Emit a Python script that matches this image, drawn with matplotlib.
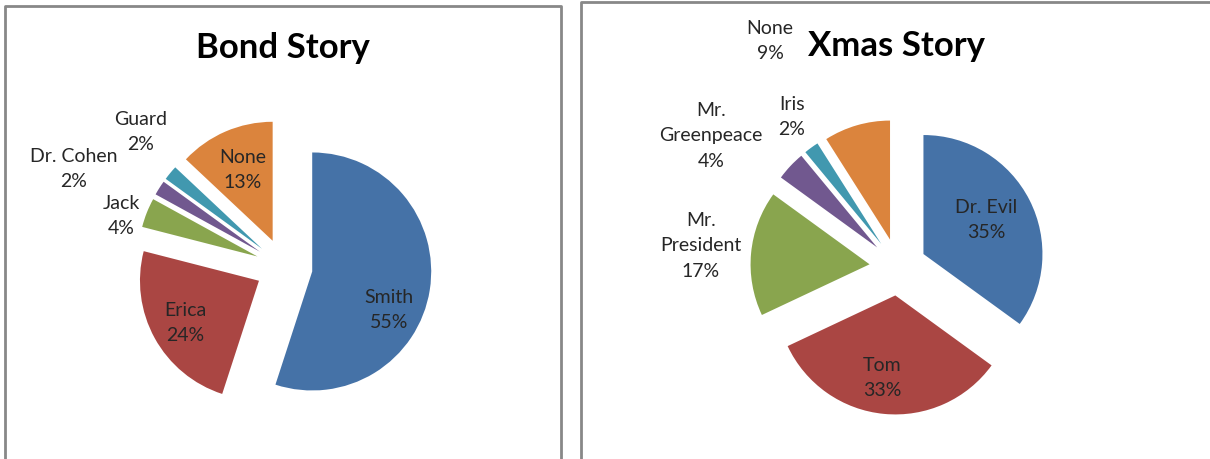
import matplotlib
matplotlib.use("Agg")
import matplotlib.pyplot as plt
from matplotlib.lines import Line2D

# ---- data ----
bond_names = ["Smith", "Erica", "Jack", "Dr. Cohen", "Guard", "None"]
bond_values = [55, 24, 4, 2, 2, 13]

xmas_names = ["Dr. Evil", "Tom", "Mr.\nPresident", "Mr.\nGreenpeace", "Iris", "None"]
xmas_values = [35, 33, 17, 4, 2, 9]

palette = ["#4572A7", "#AA4643", "#89A54E", "#71588F", "#4198AF", "#DB843D"]

# ---- layout (pixel units of a 1210x460 canvas) ----
W, H = 1210, 460
R = 119            # pie radius in px
HALF = 1.5         # half-extent of each pie axes in radius units

bond_center = (284, 268)
xmas_center = (898, 268)

# label anchor points (px) for each slice, same order as the data
bond_label_px = [(389, 310), (185, 323), (121, 216), (74, 169), (141, 132), (243, 170)]
xmas_label_px = [(986, 220), (882, 378), (701, 246), (711, 136), (792, 117), (770, 41)]

FONT = "Lato"
TEXT_COLOR = "#262626"

fig = plt.figure(figsize=(W / 100, H / 100), dpi=100)
fig.patch.set_facecolor("white")


def px_rect(cx, cy, half_px):
    return [(cx - half_px) / W, (H - cy - half_px) / H, 2 * half_px / W, 2 * half_px / H]


def draw_pie(center, names, values, label_px, title, title_px):
    cx, cy = center
    ax = fig.add_axes(px_rect(cx, cy, HALF * R))
    ax.pie(values, colors=palette, startangle=90, counterclock=False,
           explode=[0.24] * len(values), radius=1.0,
           wedgeprops=dict(linewidth=0))
    ax.set_xlim(-HALF, HALF)
    ax.set_ylim(-HALF, HALF)
    ax.set_aspect("equal")
    ax.axis("off")
    for name, val, (lx, ly) in zip(names, values, label_px):
        ax.text((lx - cx) / R, (cy - ly) / R, f"{name}\n{val}%",
                ha="center", va="center", fontsize=14, family=FONT,
                color=TEXT_COLOR, linespacing=1.6, clip_on=False)
    tx, ty = title_px
    fig.text(tx / W, 1 - ty / H, title, ha="center", va="center",
             fontsize=25, fontweight="bold", family=FONT, color="black")


draw_pie(bond_center, bond_names, bond_values, bond_label_px, "Bond Story", (283, 48))
draw_pie(xmas_center, xmas_names, xmas_values, xmas_label_px, "Xmas Story", (896, 46))

# chart-area frames
frame = dict(color="#888888", linewidth=2, solid_capstyle="butt")
left_box = [(5, 470), (5, 7), (561, 7), (561, 470)]
right_box = [(581, 470), (581, 3), (1215, 3)]
for pts in (left_box, right_box):
    xs = [p[0] / W for p in pts]
    ys = [1 - p[1] / H for p in pts]
    fig.add_artist(Line2D(xs, ys, transform=fig.transFigure, **frame))

fig.savefig("out.png", dpi=100, facecolor="white")
